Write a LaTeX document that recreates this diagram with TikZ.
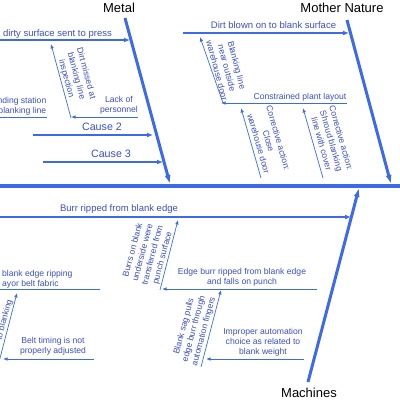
\documentclass[tikz,border=0pt]{standalone}
\usepackage{fontspec}
\setmainfont{Liberation Sans}
\usetikzlibrary{arrows.meta}
\definecolor{bonec}{HTML}{3D6AE8}
\definecolor{txtc}{HTML}{3B4FC8}
\tikzset{
  bone/.style={draw=bonec, line width=3pt, -{Latex[length=9pt,width=6pt]}},
  spine/.style={draw=bonec, line width=3.2pt},
  cause/.style={draw=bonec, line width=1.5pt, -{Latex[length=6pt,width=5pt]}},
  sub/.style={draw=bonec, line width=0.7pt, -{Latex[length=4.5pt,width=3.5pt]}},
  subline/.style={draw=bonec, line width=0.7pt},
  bonelabel/.style={font=\fontsize{13}{15}\selectfont, text=black, inner sep=0pt},
  causetxt/.style={font=\fontsize{9.5}{11}\selectfont, text=txtc, inner sep=0pt},
  bigcause/.style={font=\fontsize{10.7}{12}\selectfont, text=txtc, inner sep=0pt},
  subtxt/.style={font=\fontsize{8.6}{10.2}\selectfont, text=txtc, inner sep=0pt, align=center}
}
\begin{document}
\begin{tikzpicture}[x=1pt,y=-1pt]
\useasboundingbox (0,0) rectangle (400,400);
\clip (0,0) rectangle (400,400);

% ---- spine and bones ----
\coordinate (spL) at (-5,186);
\coordinate (spR) at (405,186);
\draw[spine] (spL) -- (spR);

\coordinate (metalS) at (125,18);
\coordinate (metalE) at (170,184);
\coordinate (natS) at (347,20);
\coordinate (natE) at (391,184);
\coordinate (machS) at (308,382);
\coordinate (machE) at (359,188);
\draw[bone] (metalS) -- (metalE);
\draw[bone] (natS) -- (natE);
\draw[bone] (machS) -- (machE);

\node[bonelabel, anchor=base] (metal) at (119,12) {Metal};
\node[bonelabel, anchor=base] (nature) at (342,12) {Mother Nature};
\node[bonelabel, anchor=base] (machines) at (309,397) {Machines};

% ---- Metal causes ----
\coordinate (c1S) at (-5,40);
\coordinate (c1E) at (130,40);
\draw[cause] (c1S) -- (c1E);
\node[causetxt, anchor=base east] (c1t) at (112,36) {dirty surface sent to press};

\coordinate (c2S) at (33,135);
\coordinate (c2E) at (153,135);
\draw[cause] (c2S) -- (c2E);
\node[bigcause, anchor=base] (c2t) at (102,130) {Cause 2};

\coordinate (c3S) at (43,162);
\coordinate (c3E) at (163,162);
\draw[cause] (c3S) -- (c3E);
\node[bigcause, anchor=base] (c3t) at (111,157) {Cause 3};

\coordinate (dmS) at (71,118);
\coordinate (dmE) at (51,44);
\draw[sub] (dmS) -- (dmE);
\node[subtxt, rotate=-75] (dmt) at (76,76) {Dirt missed at\\blanking line\\inspection};

\coordinate (lpS) at (138,117);
\coordinate (lpE) at (71,117);
\draw[sub] (lpS) -- (lpE);
\node[subtxt] (lpt) at (119,105.5) {Lack of\\personnel};

\coordinate (nsS) at (-5,117);
\coordinate (nsE) at (47,117);
\draw[subline] (nsS) -- (nsE);
\node[subtxt, align=right, anchor=east] (nst) at (46.5,106.5) {nding station\\blanking line};

% ---- Mother Nature causes ----
\coordinate (dbS) at (183,33);
\coordinate (dbE) at (349,33);
\draw[cause] (dbS) -- (dbE);
\node[causetxt, anchor=base] (dbt) at (273.5,28.3) {Dirt blown on to blank surface};

\coordinate (boS) at (223,103);
\coordinate (boE) at (200,37);
\draw[sub] (boS) -- (boE);
\node[subtxt, rotate=-75] (bot) at (227,68) {Blanking line\\near outside\\warehouse door};

\coordinate (cpS) at (347,103);
\coordinate (cpE) at (221,103);
\draw[sub] (cpS) -- (cpE);
\node[subtxt, anchor=base] (cpt) at (300,99.5) {Constrained plant layout};

\coordinate (ccS) at (261,178);
\coordinate (ccE) at (241,108);
\draw[sub] (ccS) -- (ccE);
\node[subtxt, rotate=-74] (cct) at (268.5,141) {Corrective action:\\Close\\warehouse door};

\coordinate (csS) at (323,178);
\coordinate (csE) at (303,108);
\draw[sub] (csS) -- (csE);
\node[subtxt, rotate=-74] (cst) at (331.5,141) {Corrective action:\\Shroud blanking\\line with cover};

% ---- Machines causes ----
\coordinate (brS) at (-5,217);
\coordinate (brE) at (351,217);
\draw[cause] (brS) -- (brE);
\node[causetxt, anchor=base] (brt) at (119,211.7) {Burr ripped from blank edge};

\coordinate (buS) at (160,290);
\coordinate (buE) at (178,220);
\draw[sub] (buS) -- (buE);
\node[subtxt, rotate=75] (but) at (148,254) {Burrs on blank\\underside were\\transferred from\\punch surface};

\coordinate (ebS) at (317,289);
\coordinate (ebE) at (162,289);
\draw[sub] (ebS) -- (ebE);
\node[subtxt] (ebt) at (242,277.5) {Edge burr ripped from blank edge\\and falls on punch};

\coordinate (bsS) at (201,367);
\coordinate (bsE) at (221,290);
\draw[sub] (bsS) -- (bsE);
\node[subtxt, rotate=75] (bst) at (194,329) {Blank sag pulls\\edge burr through\\automation fingers};

\coordinate (imS) at (304,359);
\coordinate (imE) at (206,359);
\draw[sub] (imS) -- (imE);
\node[subtxt] (imt) at (263,342) {Improper automation\\choice as related to\\blank weight};

\coordinate (erS) at (-5,289);
\coordinate (erE) at (100,289);
\draw[subline] (erS) -- (erE);
\node[subtxt, align=left, anchor=west] (ert) at (2,279.5) {blank edge ripping\\ayor belt fabric};

\coordinate (tbS) at (-1,362);
\coordinate (tbE) at (17,293);
\draw[sub] (tbS) -- (tbE);
\node[subtxt, rotate=75] (tbt) at (4.5,320) {to blanking};

\coordinate (btS) at (94,359);
\coordinate (btE) at (3,359);
\draw[sub] (btS) -- (btE);
\node[subtxt] (btt) at (53,346) {Belt timing is not\\properly adjusted};
\end{tikzpicture}
\end{document}
